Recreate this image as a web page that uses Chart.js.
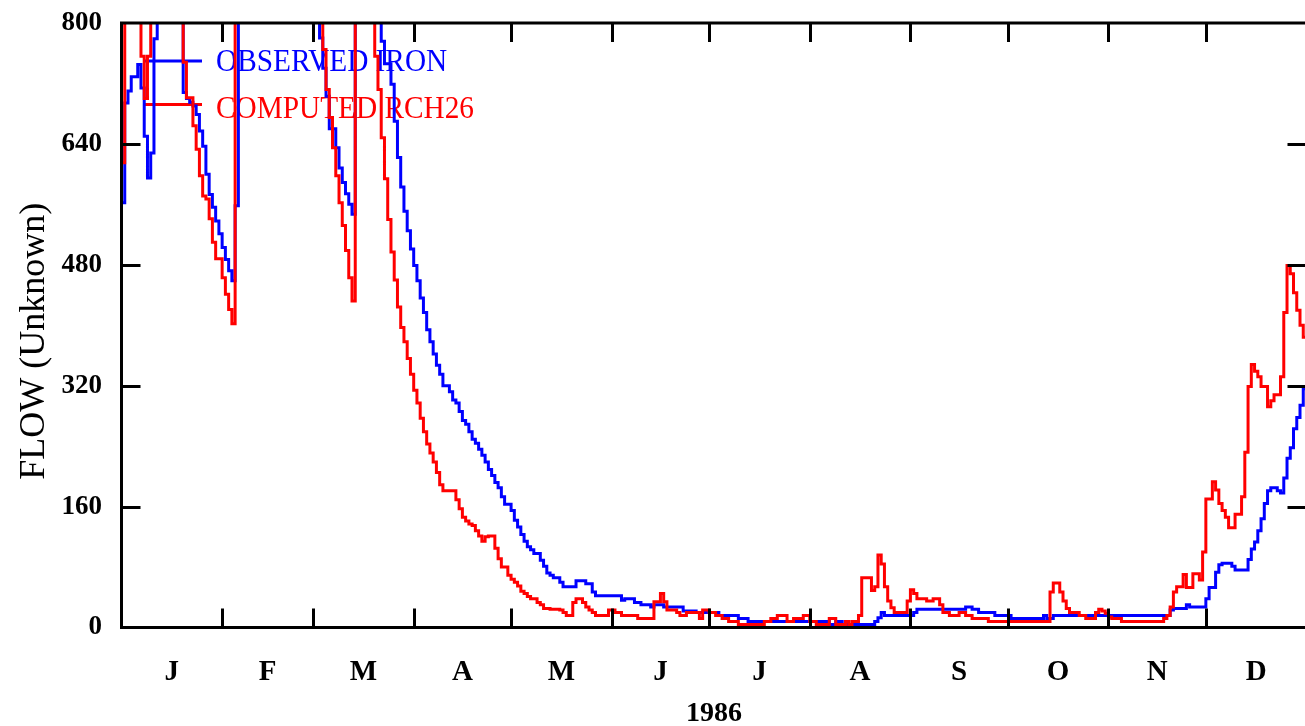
<!DOCTYPE html>
<html><head><meta charset="utf-8">
<script src="https://cdn.jsdelivr.net/npm/chart.js@4"></script>
<style>
html,body{margin:0;padding:0;overflow:hidden;background:#fff;}
#wrap{position:relative;width:1308px;height:726px;}
</style></head><body>
<div id="wrap"><canvas id="c"></canvas></div>
<script>
// month boundaries (day of year) and labels
const monthStarts = [0,31,59,90,120,151,181,212,243,273,304,334,365];
const monthLabels = ['J','F','M','A','M','J','J','A','S','O','N','D'];
const yTicks = [0,160,320,480,640,800];
const xTitle = '1986';
const yTitle = 'FLOW (Unknown)';

// daily values, 1 Jan 1986 .. 31 Dec 1986 (+ end point); values above 800 run off the top of the plot
const observedIron = [
 562,694,710,729,729,745,714,650,595,628,779,880,950,1010,980,930,900,870,840,708,700,695,690,679,657,637,600,573,556,538,521,
 503,487,472,459,558,1250,1600,1900,2100,2000,1850,1700,1600,1500,1450,1400,1350,1300,1250,1200,1150,1100,1080,1050,1020,1000,980,960,
 930,880,780,740,703,660,660,635,608,589,574,560,547,1100,1500,1700,1600,1400,1200,1000,880,776,746,746,719,670,622,583,551,525,501,
 479,459,436,417,394,378,362,347,335,320,320,312,301,297,286,274,269,259,249,244,236,228,219,209,201,192,185,173,163,163,
 155,142,133,123,114,107,103,98,98,89,81,72,69,66,66,60,54,54,54,54,62,62,62,58,58,47,42,42,42,42,42,
 42,42,42,36,38,38,38,33,33,30,30,30,27,30,30,30,27,27,27,27,27,27,22,22,22,22,20,20,20,20,
 20,20,20,16,16,16,16,16,16,12,12,12,8,8,8,8,8,8,8,8,8,8,8,8,8,8,8,8,8,8,8,
 8,8,8,8,8,8,4,4,8,8,4,4,4,4,4,4,4,4,4,4,8,13,20,16,16,16,16,16,16,16,16,
 16,20,24,24,24,24,24,24,24,24,24,24,24,24,24,24,24,27,27,24,24,20,20,20,20,20,16,16,16,16,
 16,12,12,12,12,12,12,12,12,12,12,16,12,12,16,16,16,16,16,16,16,16,16,16,16,16,16,16,16,16,16,
 16,16,16,16,16,16,16,16,16,16,16,16,16,16,16,16,16,16,16,23,25,25,25,25,30,27,27,27,27,27,
 38,53,53,73,83,85,85,85,81,76,76,76,76,90,104,113,128,144,164,181,185,185,181,178,198,224,238,263,278,294,316,
 302
];
const computedRch26 = [
 615,900,1000,1050,980,900,756,700,756,880,980,1100,1150,1100,1050,1000,950,900,850,748,701,701,664,633,598,571,567,541,510,488,488,
 463,441,421,402,1300,1700,2000,2200,2100,1950,1800,1700,1600,1500,1450,1400,1350,1300,1250,1200,1150,1100,1080,1050,1020,1000,980,960,
 930,880,860,765,712,675,635,598,562,532,499,463,432,1200,1600,1800,1700,1500,1200,756,712,648,594,540,497,460,424,397,378,356,335,
 314,297,277,259,243,231,219,205,189,181,181,181,181,169,157,146,141,137,135,128,121,114,120,121,121,105,91,80,80,69,
 64,60,55,48,45,41,38,38,33,30,25,25,24,24,24,23,20,16,16,33,38,38,33,27,23,20,16,16,16,16,23,
 23,20,20,16,16,16,16,16,12,12,12,12,12,34,34,45,34,23,23,23,20,16,16,20,20,20,20,12,23,23,
 20,20,16,16,12,12,8,8,8,4,4,4,4,4,4,4,4,8,8,12,12,16,16,16,8,8,12,12,12,16,16,
 8,8,4,4,4,4,12,12,4,4,4,8,4,8,8,16,66,66,66,49,54,96,84,54,35,26,20,20,20,20,35,
 50,45,38,38,38,35,35,38,38,30,20,20,16,16,16,20,20,16,16,12,12,12,12,12,8,8,8,8,8,8,
 8,8,8,8,8,8,8,8,8,8,8,8,8,47,59,59,47,35,25,20,20,20,16,16,12,12,12,20,24,22,19,
 14,12,12,12,8,8,8,8,8,8,8,8,8,8,8,8,8,12,16,27,47,54,54,70,53,53,71,71,63,100,
 170,170,193,182,164,155,146,132,132,150,150,173,232,319,348,339,332,319,319,292,300,308,308,332,417,479,468,443,420,400,384,
 368
];

const toPoints = arr => arr.map((v, i) => ({x: i, y: v}));
const SERIF = "'Liberation Serif', 'Times New Roman', serif";

const legendPlugin = {
  id: 'insideLegend',
  beforeDatasetsDraw(chart) {
    const {ctx, chartArea} = chart;
    ctx.save();
    chart.data.datasets.forEach((ds, i) => {
      const y = chartArea.top + 38 + i * 43.5;
      ctx.strokeStyle = ds.borderColor;
      ctx.lineWidth = 3;
      ctx.beginPath();
      ctx.moveTo(chartArea.left + 21.5, y);
      ctx.lineTo(chartArea.left + 80.5, y);
      ctx.stroke();
      ctx.save();
      ctx.translate(chartArea.left + 94.5, y + 10 + i * 3);
      ctx.scale(0.945, 1);
      ctx.fillStyle = ds.borderColor;
      ctx.font = '31px ' + SERIF;
      ctx.textBaseline = 'alphabetic';
      ctx.textAlign = 'left';
      ctx.fillText(ds.label, 0, 0);
      ctx.restore();
    });
    ctx.restore();
  }
};

const yTitlePlugin = {
  id: 'yTitle',
  afterDraw(chart) {
    const {ctx, chartArea: a} = chart;
    ctx.save();
    ctx.translate(43.5, (a.top + a.bottom) / 2 + 16);
    ctx.rotate(-Math.PI / 2);
    ctx.fillStyle = '#000';
    ctx.font = '36px ' + SERIF;
    ctx.textAlign = 'center';
    ctx.textBaseline = 'alphabetic';
    ctx.fillText(yTitle, 0, 0);
    ctx.restore();
  }
};

const framePlugin = {
  id: 'frameTicks',
  afterDatasetsDraw(chart) {
    const {ctx, chartArea: a, scales} = chart;
    ctx.save();
    ctx.strokeStyle = '#000';
    ctx.lineWidth = 3;
    ctx.lineCap = 'butt';
    ctx.beginPath();
    monthStarts.slice(1, -1).forEach(d => {
      const x = Math.round(scales.x.getPixelForValue(d)) + 0.5;
      ctx.moveTo(x, a.bottom); ctx.lineTo(x, a.bottom - 19);
      ctx.moveTo(x, a.top); ctx.lineTo(x, a.top + 19);
    });
    yTicks.slice(1, -1).forEach(v => {
      const y = Math.round(scales.y.getPixelForValue(v)) + 0.5;
      ctx.moveTo(a.left, y); ctx.lineTo(a.left + 19, y);
      ctx.moveTo(a.right, y); ctx.lineTo(a.right - 19, y);
    });
    ctx.stroke();
    ctx.strokeRect(a.left, a.top, a.right - a.left, a.bottom - a.top);
    ctx.restore();
  }
};

new Chart(document.getElementById('c'), {
  type: 'line',
  data: {
    datasets: [
      {label: 'OBSERVED IRON', data: toPoints(observedIron), borderColor: '#0000ff', order: 2},
      {label: 'COMPUTED RCH26', data: toPoints(computedRch26), borderColor: '#ff0000', order: 1}
    ]
  },
  options: {
    responsive: true,
    maintainAspectRatio: false,
    animation: false,
    devicePixelRatio: 1,
    layout: {padding: {left: 0, top: 23, right: 1.5, bottom: 0}},
    datasets: {line: {borderWidth: 3, stepped: 'before', pointRadius: 0, fill: false, clip: 0,
                      borderJoinStyle: 'miter', borderCapStyle: 'butt'}},
    plugins: {legend: {display: false}, tooltip: {enabled: false}},
    scales: {
      x: {
        type: 'linear', min: 0, max: 365,
        afterBuildTicks: s => { s.ticks = monthLabels.map((l, i) => ({value: (monthStarts[i] + monthStarts[i + 1]) / 2})); },
        afterFit: s => { s.height = 98.5; s.paddingLeft = 0; s.paddingRight = 0; },
        grid: {display: false, drawTicks: false},
        border: {display: false},
        ticks: {
          autoSkip: false, maxRotation: 0, padding: 28, color: '#000',
          font: {family: SERIF, size: 29, weight: 'bold'},
          callback: (v, i) => monthLabels[i]
        },
        title: {display: true, text: xTitle, color: '#000', padding: 0,
                font: {family: SERIF, size: 28, weight: 'bold', lineHeight: 0.9}}
      },
      y: {
        min: 0, max: 800,
        afterBuildTicks: s => { s.ticks = yTicks.map(v => ({value: v})); },
        afterFit: s => { s.width = 121.5; s.paddingTop = 0; s.paddingBottom = 0; },
        grid: {display: false, drawTicks: false},
        border: {display: false},
        ticks: {padding: 19.5, color: '#000', font: {family: SERIF, size: 27, weight: 'bold'}},
        title: {display: false, text: yTitle}
      }
    }
  },
  plugins: [legendPlugin, framePlugin, yTitlePlugin]
});
</script>
</body></html>
